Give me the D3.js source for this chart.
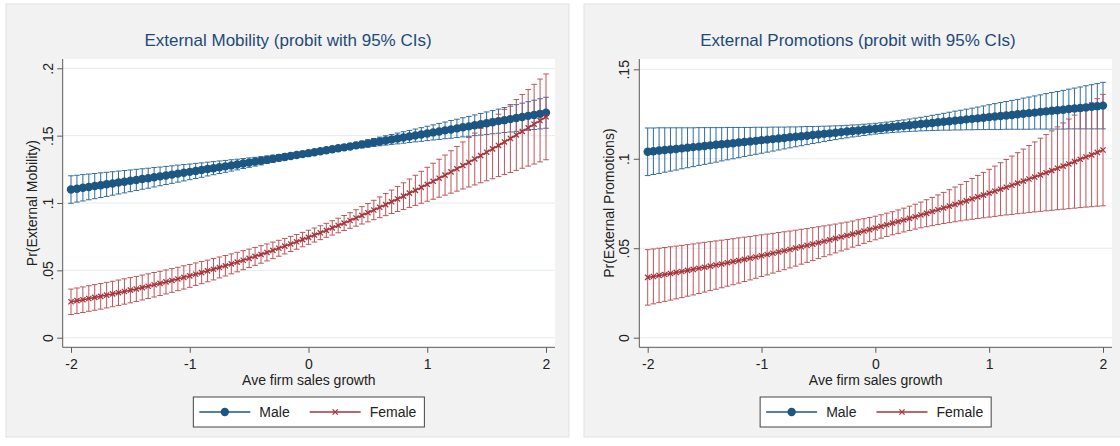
<!DOCTYPE html>
<html>
<head>
<meta charset="utf-8">
<script src="https://cdn.jsdelivr.net/npm/d3@7"></script>
<style>
  html, body { margin: 0; padding: 0; background: #fff; }
  svg { display: block; font-family: "Liberation Sans", Arial, sans-serif; }
</style>
</head>
<body>
<svg id="chart" width="1120" height="446"></svg>
<script>
// x grid of the margins (Ave firm sales growth)
const growth = [-2,-1.95,-1.9,-1.85,-1.8,-1.75,-1.7,-1.65,-1.6,-1.55,-1.5,-1.45,-1.4,-1.35,-1.3,-1.25,-1.2,-1.15,-1.1,-1.05,
  -1,-0.95,-0.9,-0.85,-0.8,-0.75,-0.7,-0.65,-0.6,-0.55,-0.5,-0.45,-0.4,-0.35,-0.3,-0.25,-0.2,-0.15,-0.1,-0.05,0,
  0.05,0.1,0.15,0.2,0.25,0.3,0.35,0.4,0.45,0.5,0.55,0.6,0.65,0.7,0.75,0.8,0.85,0.9,0.95,1,
  1.05,1.1,1.15,1.2,1.25,1.3,1.35,1.4,1.45,1.5,1.55,1.6,1.65,1.7,1.75,1.8,1.85,1.9,1.95,2];

const xTicks = [-2, -1, 0, 1, 2];
const xTickLabels = ['-2', '-1', '0', '1', '2'];
const seriesNames = ['Male', 'Female'];

// External Mobility
const mobTicks = [0, 0.05, 0.1, 0.15, 0.2];
const mobTickLabels = ['0', '.05', '.1', '.15', '.2'];
const mobMale = [0.1100,0.1106,0.1113,0.1119,0.1126,0.1132,0.1139,0.1145,0.1152,0.1158,
  0.1165,0.1171,0.1178,0.1184,0.1191,0.1198,0.1204,0.1211,0.1218,0.1225,
  0.1231,0.1238,0.1245,0.1252,0.1258,0.1265,0.1272,0.1279,0.1286,0.1293,
  0.1300,0.1307,0.1314,0.1321,0.1328,0.1335,0.1342,0.1349,0.1356,0.1363,0.1370,
  0.1377,0.1384,0.1392,0.1399,0.1406,0.1413,0.1420,0.1428,0.1435,0.1442,
  0.1450,0.1457,0.1464,0.1472,0.1479,0.1486,0.1494,0.1501,0.1509,0.1516,
  0.1524,0.1531,0.1539,0.1546,0.1554,0.1562,0.1569,0.1577,0.1585,0.1592,
  0.1600,0.1608,0.1615,0.1623,0.1631,0.1639,0.1647,0.1654,0.1662,0.1670];
const mobMaleLo = [0.0998,0.1007,0.1015,0.1024,0.1032,0.1041,0.1049,0.1058,0.1067,0.1075,
  0.1084,0.1093,0.1102,0.1110,0.1119,0.1128,0.1137,0.1146,0.1155,0.1164,
  0.1173,0.1182,0.1191,0.1201,0.1210,0.1219,0.1228,0.1237,0.1246,0.1256,
  0.1265,0.1274,0.1283,0.1293,0.1302,0.1311,0.1320,0.1329,0.1337,0.1346,0.1354,
  0.1362,0.1369,0.1376,0.1383,0.1389,0.1395,0.1400,0.1405,0.1410,0.1415,
  0.1420,0.1425,0.1430,0.1435,0.1439,0.1444,0.1449,0.1454,0.1458,0.1463,
  0.1468,0.1472,0.1477,0.1481,0.1486,0.1491,0.1495,0.1500,0.1504,0.1509,
  0.1514,0.1518,0.1523,0.1527,0.1532,0.1537,0.1541,0.1546,0.1550,0.1555];
const mobMaleHi = [0.1202,0.1206,0.1211,0.1215,0.1219,0.1224,0.1228,0.1232,0.1237,0.1241,
  0.1245,0.1250,0.1254,0.1258,0.1263,0.1267,0.1272,0.1276,0.1281,0.1285,
  0.1289,0.1294,0.1298,0.1303,0.1307,0.1312,0.1316,0.1321,0.1325,0.1330,
  0.1335,0.1339,0.1344,0.1349,0.1354,0.1359,0.1364,0.1369,0.1374,0.1380,0.1386,
  0.1392,0.1399,0.1407,0.1415,0.1423,0.1432,0.1441,0.1450,0.1459,0.1469,
  0.1479,0.1489,0.1499,0.1509,0.1519,0.1529,0.1539,0.1549,0.1559,0.1570,
  0.1580,0.1591,0.1601,0.1612,0.1622,0.1633,0.1643,0.1654,0.1665,0.1676,
  0.1686,0.1697,0.1708,0.1719,0.1730,0.1741,0.1752,0.1763,0.1774,0.1785];
const mobFemale = [0.0267,0.0275,0.0282,0.0291,0.0299,0.0307,0.0316,0.0325,0.0334,0.0343,
  0.0353,0.0362,0.0372,0.0382,0.0393,0.0403,0.0414,0.0425,0.0436,0.0448,
  0.0459,0.0471,0.0483,0.0496,0.0508,0.0521,0.0534,0.0548,0.0561,0.0575,
  0.0589,0.0604,0.0618,0.0633,0.0648,0.0664,0.0680,0.0696,0.0712,0.0728,0.0745,
  0.0762,0.0779,0.0797,0.0815,0.0833,0.0851,0.0870,0.0889,0.0908,0.0928,
  0.0948,0.0968,0.0988,0.1009,0.1030,0.1051,0.1073,0.1094,0.1116,0.1139,
  0.1161,0.1184,0.1207,0.1231,0.1254,0.1278,0.1302,0.1327,0.1352,0.1377,
  0.1402,0.1427,0.1453,0.1479,0.1505,0.1531,0.1558,0.1585,0.1612,0.1640];
const mobFemaleLo = [0.0172,0.0180,0.0187,0.0196,0.0204,0.0212,0.0221,0.0230,0.0240,0.0249,
  0.0259,0.0269,0.0280,0.0291,0.0302,0.0313,0.0325,0.0337,0.0349,0.0361,
  0.0374,0.0388,0.0401,0.0415,0.0429,0.0444,0.0458,0.0474,0.0489,0.0505,
  0.0521,0.0537,0.0553,0.0570,0.0587,0.0605,0.0622,0.0640,0.0657,0.0675,0.0693,
  0.0710,0.0728,0.0745,0.0762,0.0779,0.0796,0.0812,0.0828,0.0844,0.0860,
  0.0876,0.0891,0.0906,0.0922,0.0937,0.0952,0.0967,0.0982,0.0998,0.1013,
  0.1028,0.1043,0.1058,0.1073,0.1088,0.1104,0.1119,0.1134,0.1150,0.1165,
  0.1180,0.1196,0.1211,0.1227,0.1242,0.1258,0.1274,0.1289,0.1305,0.1321];
const mobFemaleHi = [0.0361,0.0369,0.0377,0.0386,0.0394,0.0402,0.0411,0.0419,0.0428,0.0437,
  0.0446,0.0455,0.0465,0.0474,0.0484,0.0493,0.0503,0.0513,0.0523,0.0534,
  0.0544,0.0555,0.0566,0.0576,0.0588,0.0599,0.0610,0.0622,0.0634,0.0646,
  0.0658,0.0670,0.0683,0.0696,0.0710,0.0723,0.0737,0.0752,0.0766,0.0782,0.0798,
  0.0814,0.0831,0.0849,0.0868,0.0887,0.0907,0.0928,0.0950,0.0973,0.0996,
  0.1020,0.1045,0.1070,0.1096,0.1123,0.1150,0.1178,0.1206,0.1235,0.1265,
  0.1295,0.1325,0.1356,0.1388,0.1420,0.1453,0.1486,0.1519,0.1554,0.1588,
  0.1623,0.1659,0.1695,0.1731,0.1768,0.1805,0.1843,0.1881,0.1920,0.1958];

// External Promotions
const promTicks = [0, 0.05, 0.1, 0.15];
const promTickLabels = ['0', '.05', '.1', '.15'];
const promMale = [0.1039,0.1042,0.1046,0.1049,0.1052,0.1055,0.1058,0.1062,0.1065,0.1068,
  0.1071,0.1075,0.1078,0.1081,0.1084,0.1087,0.1091,0.1094,0.1097,0.1100,
  0.1104,0.1107,0.1110,0.1113,0.1116,0.1120,0.1123,0.1126,0.1129,0.1133,
  0.1136,0.1139,0.1142,0.1145,0.1149,0.1152,0.1155,0.1158,0.1162,0.1165,0.1168,
  0.1171,0.1175,0.1178,0.1181,0.1184,0.1187,0.1191,0.1194,0.1197,0.1200,
  0.1204,0.1207,0.1210,0.1213,0.1216,0.1220,0.1223,0.1226,0.1229,0.1233,
  0.1236,0.1239,0.1242,0.1245,0.1249,0.1252,0.1255,0.1258,0.1262,0.1265,
  0.1268,0.1271,0.1274,0.1278,0.1281,0.1284,0.1287,0.1291,0.1294,0.1297];
const promMaleLo = [0.0906,0.0912,0.0918,0.0925,0.0931,0.0937,0.0944,0.0950,0.0956,0.0963,
  0.0969,0.0975,0.0981,0.0988,0.0994,0.1000,0.1006,0.1013,0.1019,0.1025,
  0.1031,0.1037,0.1043,0.1049,0.1055,0.1061,0.1067,0.1073,0.1079,0.1085,
  0.1090,0.1096,0.1102,0.1107,0.1112,0.1117,0.1122,0.1126,0.1130,0.1134,0.1138,
  0.1141,0.1144,0.1147,0.1149,0.1151,0.1153,0.1154,0.1156,0.1157,0.1158,
  0.1159,0.1160,0.1160,0.1161,0.1161,0.1162,0.1162,0.1163,0.1163,0.1164,
  0.1164,0.1164,0.1165,0.1165,0.1165,0.1165,0.1165,0.1166,0.1166,0.1166,
  0.1166,0.1166,0.1166,0.1167,0.1167,0.1167,0.1167,0.1167,0.1167,0.1167];
const promMaleHi = [0.1172,0.1172,0.1173,0.1173,0.1173,0.1173,0.1173,0.1173,0.1173,0.1174,
  0.1174,0.1174,0.1174,0.1174,0.1175,0.1175,0.1175,0.1175,0.1175,0.1176,
  0.1176,0.1176,0.1177,0.1177,0.1177,0.1178,0.1178,0.1179,0.1180,0.1180,
  0.1181,0.1182,0.1183,0.1184,0.1185,0.1187,0.1189,0.1190,0.1193,0.1195,0.1198,
  0.1201,0.1205,0.1209,0.1213,0.1217,0.1222,0.1227,0.1232,0.1237,0.1243,
  0.1248,0.1254,0.1260,0.1266,0.1271,0.1277,0.1283,0.1289,0.1295,0.1302,
  0.1308,0.1314,0.1320,0.1326,0.1332,0.1339,0.1345,0.1351,0.1357,0.1364,
  0.1370,0.1376,0.1382,0.1389,0.1395,0.1401,0.1408,0.1414,0.1420,0.1427];
const promFemale = [0.0337,0.0342,0.0348,0.0353,0.0359,0.0365,0.0370,0.0376,0.0382,0.0388,
  0.0394,0.0400,0.0406,0.0412,0.0419,0.0425,0.0431,0.0438,0.0445,0.0451,
  0.0458,0.0465,0.0472,0.0479,0.0486,0.0493,0.0501,0.0508,0.0516,0.0523,
  0.0531,0.0539,0.0547,0.0555,0.0563,0.0571,0.0579,0.0587,0.0596,0.0604,0.0613,
  0.0622,0.0631,0.0640,0.0649,0.0658,0.0667,0.0676,0.0686,0.0695,0.0705,
  0.0715,0.0725,0.0735,0.0745,0.0755,0.0765,0.0776,0.0787,0.0797,0.0808,
  0.0819,0.0830,0.0841,0.0852,0.0864,0.0875,0.0887,0.0898,0.0910,0.0922,
  0.0934,0.0947,0.0959,0.0971,0.0984,0.0997,0.1010,0.1022,0.1036,0.1049];
const promFemaleLo = [0.0182,0.0189,0.0196,0.0203,0.0210,0.0217,0.0224,0.0232,0.0239,0.0247,
  0.0255,0.0263,0.0271,0.0279,0.0288,0.0296,0.0305,0.0314,0.0323,0.0332,
  0.0342,0.0351,0.0361,0.0371,0.0380,0.0390,0.0400,0.0411,0.0421,0.0431,
  0.0442,0.0453,0.0463,0.0474,0.0485,0.0495,0.0506,0.0516,0.0527,0.0537,0.0547,
  0.0556,0.0566,0.0575,0.0583,0.0591,0.0599,0.0607,0.0614,0.0620,0.0626,
  0.0632,0.0638,0.0643,0.0648,0.0653,0.0658,0.0662,0.0666,0.0670,0.0674,
  0.0678,0.0682,0.0686,0.0689,0.0693,0.0696,0.0700,0.0703,0.0706,0.0709,
  0.0712,0.0715,0.0718,0.0721,0.0724,0.0727,0.0730,0.0732,0.0735,0.0737];
const promFemaleHi = [0.0492,0.0496,0.0500,0.0504,0.0508,0.0512,0.0516,0.0520,0.0524,0.0529,
  0.0533,0.0537,0.0541,0.0545,0.0549,0.0553,0.0558,0.0562,0.0566,0.0570,
  0.0575,0.0579,0.0583,0.0588,0.0592,0.0596,0.0601,0.0606,0.0610,0.0615,
  0.0620,0.0625,0.0630,0.0635,0.0641,0.0646,0.0652,0.0659,0.0665,0.0672,0.0679,
  0.0687,0.0696,0.0704,0.0714,0.0724,0.0735,0.0746,0.0758,0.0771,0.0784,
  0.0798,0.0812,0.0827,0.0842,0.0857,0.0873,0.0890,0.0907,0.0924,0.0941,
  0.0959,0.0978,0.0996,0.1015,0.1034,0.1054,0.1074,0.1094,0.1115,0.1135,
  0.1156,0.1178,0.1200,0.1222,0.1244,0.1267,0.1290,0.1313,0.1336,0.1360];

const MALE = { line: '#1c5683', ci: '#2f6c9c' };
const FEMALE = { line: '#a3363d', ci: '#bd555b' };
const AXIS_COLOR = '#5a5a5a';
const GRID_COLOR = '#e4ecee';
const TITLE_COLOR = '#1f4a78';

const svg = d3.select('#chart');

const panels = [
  {
    title: 'External Mobility (probit with 95% CIs)', titleX: 288,
    yTitle: 'Pr(External Mobility)',
    bg: [6, 4, 563, 433],
    plot: [62.7, 59, 555, 347.3],
    xRange: [71, 546], yDomain: [0, 0.2], yRange: [337.7, 68.3],
    yTicks: mobTicks, yTickLabels: mobTickLabels,
    male: [mobMale, mobMaleLo, mobMaleHi], female: [mobFemale, mobFemaleLo, mobFemaleHi]
  },
  {
    title: 'External Promotions (probit with 95% CIs)', titleX: 858,
    yTitle: 'Pr(External Promotions)',
    bg: [584, 4, 560, 433],
    plot: [639.3, 59, 1112, 347.3],
    xRange: [647.7, 1103], yDomain: [0, 0.15], yRange: [337.7, 69.3],
    yTicks: promTicks, yTickLabels: promTickLabels,
    male: [promMale, promMaleLo, promMaleHi], female: [promFemale, promFemaleLo, promFemaleHi]
  }
];

function drawCI(g, x, y, mean, lo, hi, color) {
	const ci = g.append('g').attr('stroke', color).attr('stroke-width', 1).attr('fill', 'none');
	const rows = growth.map((gx, i) => ({ gx, lo: lo[i], hi: hi[i] }));
	ci.selectAll('line.bar').data(rows).join('line')
		.attr('class', 'bar')
		.attr('x1', d => x(d.gx)).attr('x2', d => x(d.gx))
		.attr('y1', d => y(d.lo)).attr('y2', d => y(d.hi));
	// caps at both ends
	['lo', 'hi'].forEach(k => {
		ci.selectAll('line.cap-' + k).data(rows).join('line')
			.attr('class', 'cap-' + k)
			.attr('x1', d => x(d.gx) - 2.8).attr('x2', d => x(d.gx) + 2.8)
			.attr('y1', d => y(d[k])).attr('y2', d => y(d[k]));
	});
}

function drawMean(g, x, y, mean, color, marker) {
	const pts = growth.map((gx, i) => [x(gx), y(mean[i])]);
	g.append('path')
		.attr('d', d3.line()(pts))
		.attr('fill', 'none')
		.attr('stroke', color)
		.attr('stroke-width', 1.5);
	if (marker === 'circle') {
		g.append('g').selectAll('circle').data(pts).join('circle')
			.attr('cx', d => d[0]).attr('cy', d => d[1])
			.attr('r', 4.2)
			.attr('fill', color);
	} else {
		g.append('g').selectAll('path').data(pts).join('path')
			.attr('transform', d => `translate(${d[0]},${d[1]})`)
			.attr('d', 'M-2.6,-2.6L2.6,2.6M-2.6,2.6L2.6,-2.6')
			.attr('stroke', color)
			.attr('stroke-width', 1.3)
			.attr('fill', 'none');
	}
}

function drawLegend(g, cx, top) {
	const lg = g.append('g');
	const box = lg.append('rect');
	const items = [
		{ name: seriesNames[0], color: MALE.line, marker: 'circle' },
		{ name: seriesNames[1], color: FEMALE.line, marker: 'x' }
	];
	let cursor = 6;
	const midY = top + 15;
	items.forEach((it, i) => {
		if (i > 0) cursor += 20;
		lg.append('line')
			.attr('x1', cursor).attr('x2', cursor + 51)
			.attr('y1', midY).attr('y2', midY)
			.attr('stroke', it.color).attr('stroke-width', 1.5);
		if (it.marker === 'circle') {
			lg.append('circle').attr('cx', cursor + 25.5).attr('cy', midY).attr('r', 4.2).attr('fill', it.color);
		} else {
			lg.append('path')
				.attr('transform', `translate(${cursor + 25.5},${midY})`)
				.attr('d', 'M-2.6,-2.6L2.6,2.6M-2.6,2.6L2.6,-2.6')
				.attr('stroke', it.color).attr('stroke-width', 1.3);
		}
		cursor += 51 + 9;
		const t = lg.append('text')
			.attr('x', cursor).attr('y', midY + 5)
			.attr('font-size', 14).attr('fill', '#222')
			.text(it.name);
		cursor += t.node().getComputedTextLength();
	});
	cursor += 8;
	box.attr('x', 0).attr('y', top).attr('width', cursor).attr('height', 30)
		.attr('fill', '#fff').attr('stroke', '#444').attr('stroke-width', 1);
	lg.attr('transform', `translate(${cx - cursor / 2},0)`);
}

panels.forEach(p => {
	const g = svg.append('g');
	g.append('rect')
		.attr('x', p.bg[0]).attr('y', p.bg[1]).attr('width', p.bg[2]).attr('height', p.bg[3])
		.attr('fill', '#f2f2f2').attr('stroke', '#e2e2e2');

	const [px0, py0, px1, py1] = p.plot;
	g.append('rect')
		.attr('x', px0).attr('y', py0).attr('width', px1 - px0).attr('height', py1 - py0)
		.attr('fill', '#fff');

	const x = d3.scaleLinear().domain([-2, 2]).range(p.xRange);
	const y = d3.scaleLinear().domain(p.yDomain).range(p.yRange);

	// horizontal grid
	g.append('g').selectAll('line').data(p.yTicks).join('line')
		.attr('x1', px0).attr('x2', px1)
		.attr('y1', d => y(d)).attr('y2', d => y(d))
		.attr('stroke', GRID_COLOR).attr('stroke-width', 1);

	// title
	g.append('text')
		.attr('x', p.titleX).attr('y', 45.5)
		.attr('text-anchor', 'middle')
		.attr('font-size', 17)
		.attr('fill', TITLE_COLOR)
		.text(p.title);

	// confidence intervals, then the connected lines
	drawCI(g, x, y, p.male[0], p.male[1], p.male[2], MALE.ci);
	drawCI(g, x, y, p.female[0], p.female[1], p.female[2], FEMALE.ci);
	drawMean(g, x, y, p.male[0], MALE.line, 'circle');
	drawMean(g, x, y, p.female[0], FEMALE.line, 'x');

	// y axis
	const yAxis = g.append('g')
		.attr('transform', `translate(${px0},0)`)
		.call(d3.axisLeft(y).tickValues(p.yTicks)
			.tickFormat((d, i) => p.yTickLabels[i])
			.tickSize(5.5).tickSizeOuter(0));
	yAxis.select('.domain').remove();
	yAxis.selectAll('.tick line').attr('stroke', AXIS_COLOR);
	yAxis.selectAll('.tick text')
		.attr('x', null).attr('dy', null)
		.attr('transform', 'translate(-10,0) rotate(-90)')
		.attr('text-anchor', 'middle')
		.attr('font-size', 14).attr('fill', '#222')
		.attr('font-family', null);
	g.append('line')
		.attr('x1', px0).attr('x2', px0).attr('y1', py0).attr('y2', py1)
		.attr('stroke', AXIS_COLOR).attr('stroke-width', 1);

	// x axis
	const xAxis = g.append('g')
		.attr('transform', `translate(0,${py1})`)
		.call(d3.axisBottom(x).tickValues(xTicks)
			.tickFormat((d, i) => xTickLabels[i])
			.tickSize(5.5).tickSizeOuter(0));
	xAxis.select('.domain').remove();
	xAxis.selectAll('.tick line').attr('stroke', AXIS_COLOR);
	xAxis.selectAll('.tick text')
		.attr('y', 22).attr('dy', null)
		.attr('font-size', 14).attr('fill', '#222')
		.attr('font-family', null);
	g.append('line')
		.attr('x1', px0).attr('x2', px1).attr('y1', py1).attr('y2', py1)
		.attr('stroke', AXIS_COLOR).attr('stroke-width', 1);

	// axis titles
	const cx = (px0 + px1) / 2;
	g.append('text')
		.attr('x', cx).attr('y', 385)
		.attr('text-anchor', 'middle')
		.attr('font-size', 14).attr('fill', '#222')
		.text('Ave firm sales growth');
	g.append('text')
		.attr('transform', `translate(${px0 - 25.5},${(py0 + py1) / 2}) rotate(-90)`)
		.attr('text-anchor', 'middle')
		.attr('font-size', 14).attr('fill', '#222')
		.text(p.yTitle);

	drawLegend(g, cx, 397);
});
</script>
</body>
</html>
